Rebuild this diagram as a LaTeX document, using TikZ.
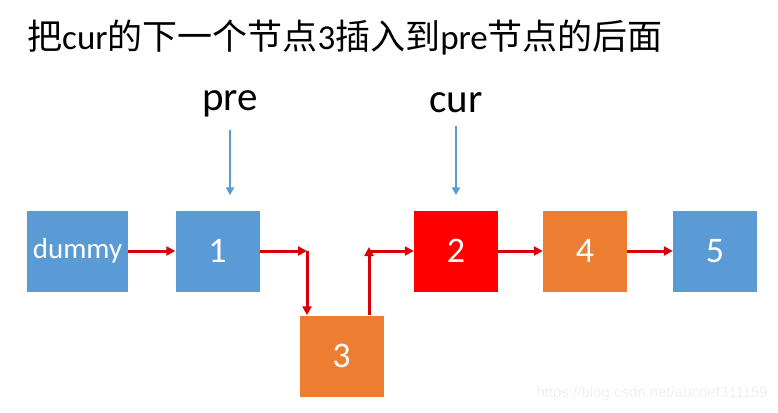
\documentclass[tikz,border=0pt]{standalone}
\usepackage{fontspec}
\setmainfont{Carlito}
\newfontfamily\cjk{Noto Sans CJK SC}
\usepackage{tikz}
\usetikzlibrary{arrows.meta, positioning}
\usepackage{xcolor}
\definecolor{boxblue}{RGB}{91,155,213}
\definecolor{boxorange}{RGB}{237,125,49}
\definecolor{boxred}{RGB}{255,0,0}
\definecolor{linkred}{RGB}{215,0,10}
\tikzset{%
	every listnode/.style={
		inner sep=0pt,
		minimum width=84pt,
		minimum height=81pt,
		text=white,
		font=\fontsize{36}{42}\selectfont
	},
	pointer label/.style={
		inner sep=0pt,
		anchor=base,
		font=\fontsize{41}{48}\selectfont
	},
}

\begin{document}
\begin{tikzpicture}[
				x=1pt, y=-1pt,
				blue node/.style={every listnode, fill=boxblue},
				orange node/.style={every listnode, fill=boxorange},
				red node/.style={every listnode, fill=boxred},
				link/.style={draw=linkred, line width=3pt, -{Triangle[length=9pt,width=9pt]}},
				ptr/.style={draw=boxblue, line width=2.2pt, -{Triangle[length=8pt,width=8pt]}, shorten <=13pt, shorten >=15pt}
				]
				\useasboundingbox (0,0) rectangle (778,412);
				
				% Title
				\node[anchor=base west, inner sep=0pt, font=\fontsize{35}{42}\selectfont] (title) at (27,49)
				{{\cjk 把}cur{\cjk 的下一个节点}3{\cjk 插入到}pre{\cjk 节点的后面}};
				
				% Nodes of the list
				\node[blue node, minimum width=101pt, font=\fontsize{29}{34}\selectfont] (dummy) at (77.5,251) {dummy};
				\node[blue node] (n1) at (217.5,251) {1};
				\node[orange node] (n3) at (341.5,356) {3};
				\node[red node] (n2) at (456,251) {2};
				\node[orange node] (n4) at (585,251) {4};
				\node[blue node] (n5) at (715,251) {5};
				\coordinate (c1) at (307,251);
				\coordinate (c2) at (369,251);
				
				% Pointers
				\node[pointer label] (pre) at (230,110) {pre};
				\node[pointer label] (cur) at (456,112) {cur};
				\draw[ptr] (pre.south) -- (pre.south |- n1.north);
				\draw[ptr] (cur.south) -- (cur.south |- n2.north);
				
				% Links
				\draw[link] (dummy) -- (n1);
				\draw[link] (n1) -- (c1);
				\draw[link] (c1) -- (c1 |- n3.north);
				\draw[link] (c2 |- n3.north) -- ([yshift=4pt]c2);
				\draw[link] (c2) -- (n2);
				\draw[link] (n2) -- (n4);
				\draw[link] (n4) -- (n5);
				
				% Watermark
				\node[anchor=base east, inner sep=0pt, text=black!6, font=\fontspec{Liberation Sans}\fontsize{15}{18}\selectfont] (mark) at (768,397) {https://blog.csdn.net/abcdef311159};
				
			\end{tikzpicture}
\end{document}
